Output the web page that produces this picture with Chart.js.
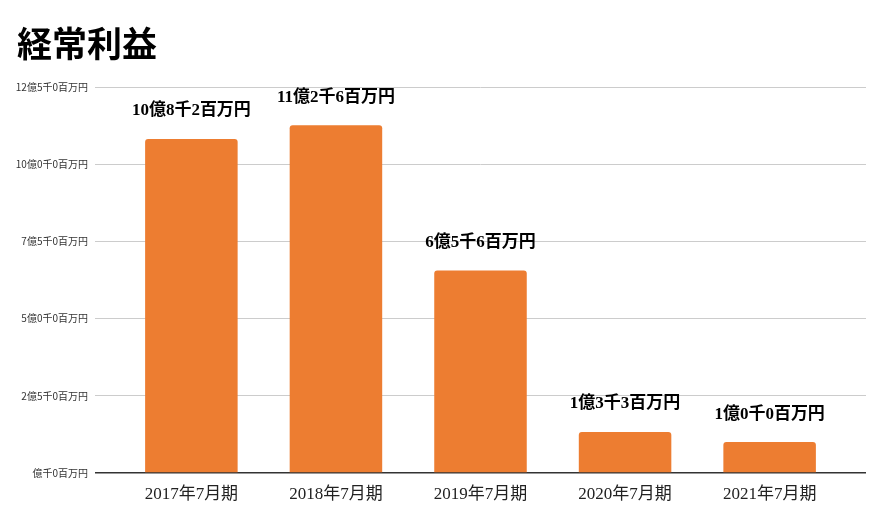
<!DOCTYPE html>
<html>
<head>
<meta charset="utf-8">
<script src="https://cdn.jsdelivr.net/npm/chart.js@4.4.1/dist/chart.umd.min.js"></script>
<style>
  html, body { margin: 0; padding: 0; background: #fff; }
  #wrap { width: 889px; height: 508px; }
</style>
</head>
<body>
<div id="wrap"><canvas id="myChart" width="889" height="508"></canvas></div>
<script>
const titleText = '経常利益';

// 期 (fiscal periods)
const periods = ['2017年7月期', '2018年7月期', '2019年7月期', '2020年7月期', '2021年7月期'];

// 経常利益, 単位: 百万円
const profit = [1082, 1126, 656, 133, 100];

// y axis tick values and their labels (as shown)
const yTickVals = [0, 250, 500, 750, 1000, 1250];
const yTickLabels = ['億千0百万円', '2億5千0百万円', '5億0千0百万円', '7億5千0百万円', '10億0千0百万円', '12億5千0百万円'];

const serif = "'Liberation Serif', 'Noto Sans CJK JP', serif";
const sans = "'Noto Sans CJK JP', 'Noto Sans', sans-serif";

function fmt(v) {
    return Math.floor(v / 100) + '億' + Math.floor((v % 100) / 10) + '千' + (v % 10) + '百万円';
}

const ctx = document.getElementById('myChart');

const titlePlugin = {
    id: 'leftTitle',
    afterDraw(chart) {
        const c = chart.ctx;
        c.save();
        c.font = "bold 35px " + sans;
        c.fillStyle = '#000';
        c.textAlign = 'left';
        c.textBaseline = 'middle';
        c.fillText(titleText, 17, 44);
        c.restore();
    }
};

const labelPlugin = {
    id: 'barLabels',
    afterDatasetsDraw(chart) {
        const c = chart.ctx;
        const meta = chart.getDatasetMeta(0);
        c.save();
        c.font = "bold 17px " + serif;
        c.fillStyle = '#000';
        c.textAlign = 'center';
        c.textBaseline = 'middle';
        meta.data.forEach((bar, i) => {
            c.fillText(fmt(profit[i]), bar.x, bar.y - 28);
        });
        c.restore();
    }
};

const data = {
    datasets: [{
        label: titleText,
        data: profit.map((v, i) => ({ x: i, y: v })),
        backgroundColor: '#ED7D31',
        borderRadius: { topLeft: 3, topRight: 3 },
        borderSkipped: 'bottom',
        barPercentage: 0.8,
        categoryPercentage: 0.8,
    }]
};

new Chart(ctx, {
    type: 'bar',
    data: data,
    plugins: [titlePlugin, labelPlugin],
    options: {
        responsive: false,
        animation: false,
        layout: { padding: { top: 87, right: 23, left: 0, bottom: 0 } },
        plugins: {
            legend: { display: false },
            tooltip: { enabled: false }
        },
        scales: {
            x: {
                type: 'linear',
                offset: false,
                min: -2 / 3,
                max: 4 + 2 / 3,
                afterBuildTicks: s => { s.ticks = periods.map((p, i) => ({ value: i })); },
                afterFit: s => { s.height = 35; },
                grid: { display: false, drawTicks: false, offset: false },
                border: { display: false },
                ticks: {
                    padding: 11,
                    color: '#222',
                    font: { family: serif, size: 17 },
                    callback: v => periods[v]
                }
            },
            y: {
                min: 0,
                max: 1250,
                afterBuildTicks: s => { s.ticks = yTickVals.map(v => ({ value: v })); },
                afterFit: s => { s.width = 95; },
                grid: {
                    color: ctx => ctx.tick && ctx.tick.value === 0 ? '#333' : '#cccccc',
                    lineWidth: ctx => ctx.tick && ctx.tick.value === 0 ? 1.5 : 1,
                    drawTicks: false
                },
                border: { display: false },
                ticks: {
                    padding: 7,
                    color: '#333',
                    font: { family: sans, size: 10 },
                    callback: v => yTickLabels[yTickVals.indexOf(v)]
                }
            }
        }
    }
});
</script>
</body>
</html>
